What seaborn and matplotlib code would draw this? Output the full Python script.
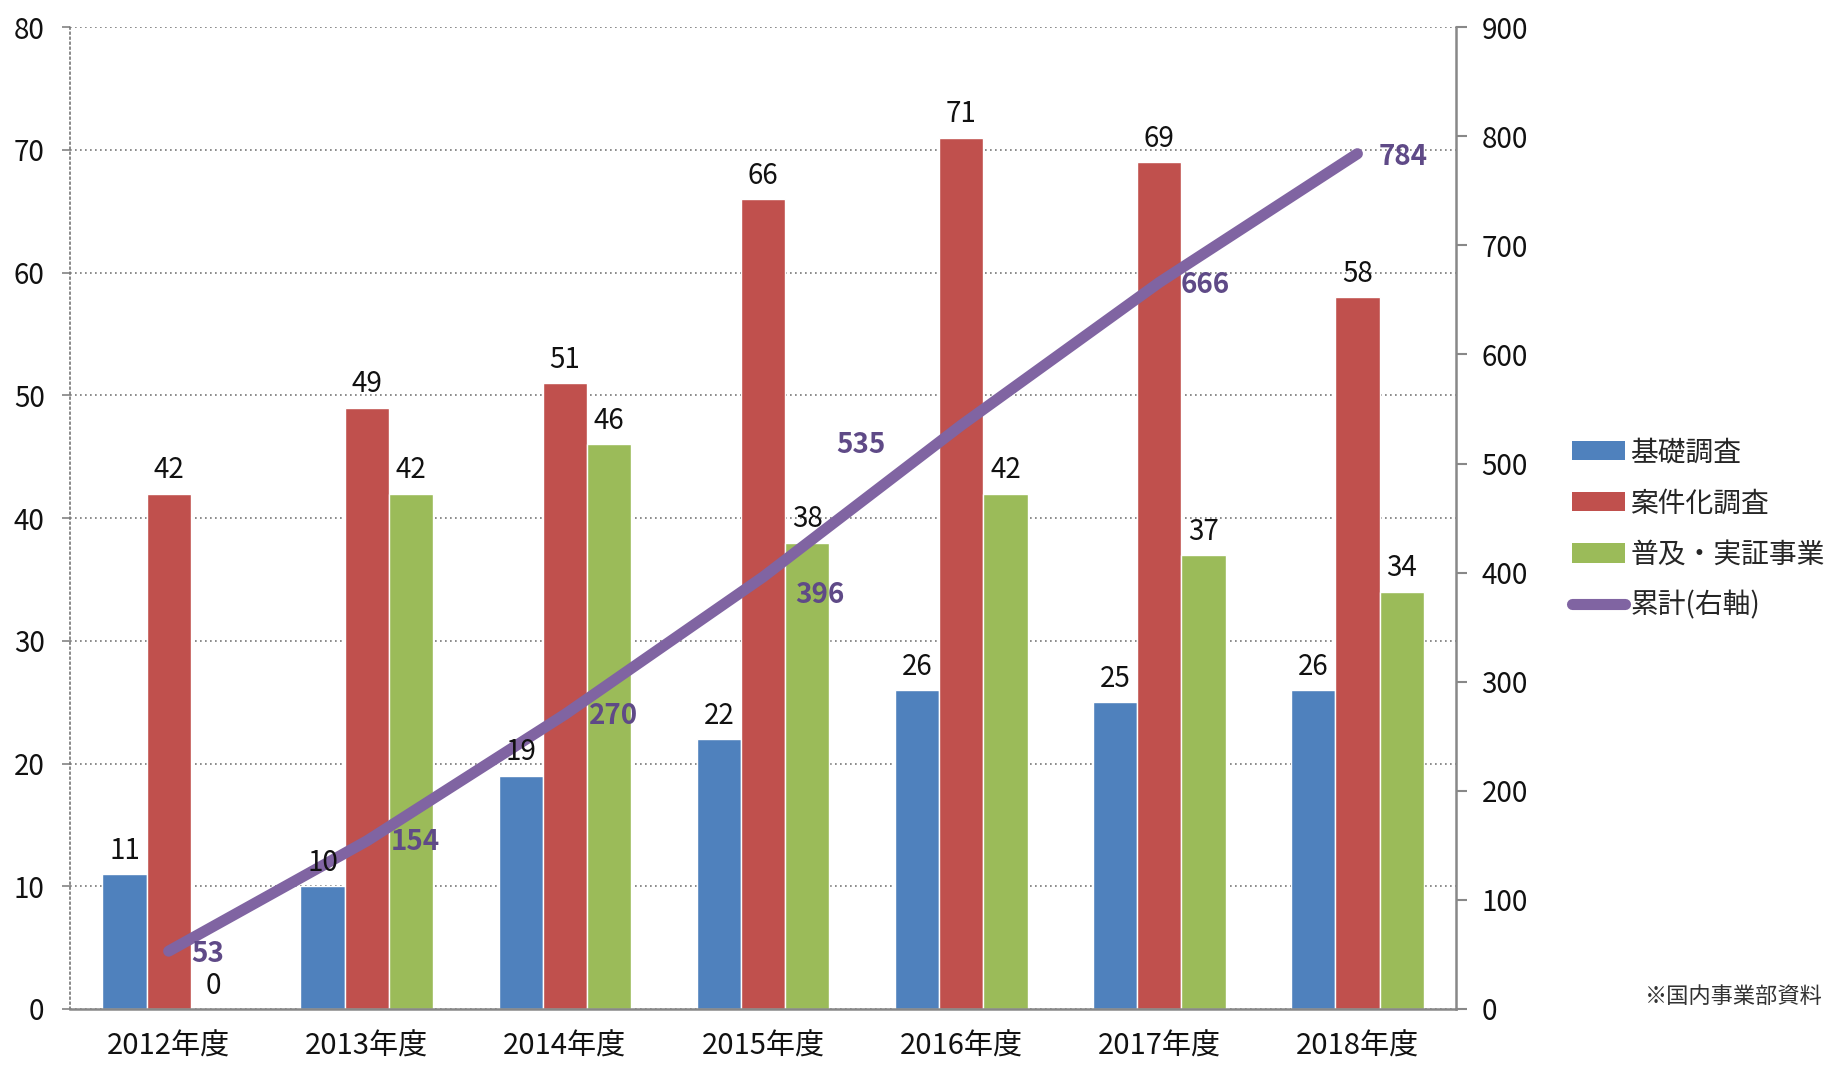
import matplotlib
matplotlib.use("Agg")
import matplotlib.pyplot as plt
import seaborn as sns
import pandas as pd
from matplotlib.lines import Line2D
from matplotlib.patches import Patch

years = ["2012年度", "2013年度", "2014年度", "2015年度", "2016年度", "2017年度", "2018年度"]
series_names = ["基礎調査", "案件化調査", "普及・実証事業"]
kiso = [11, 10, 19, 22, 26, 25, 26]
anken = [42, 49, 51, 66, 71, 69, 58]
fukyu = [0, 42, 46, 38, 42, 37, 34]
cumulative = [53, 154, 270, 396, 535, 666, 784]
line_name = "累計(右軸)"
note = "※国内事業部資料"

colors = ["#4F81BD", "#C0504D", "#9BBB59"]
line_color = "#8064A2"
label_color = "#5F4A87"
label_offsets = [(28, -2), (35, -1), (35, -1), (41, -13), (-72, -14), (33, -2), (33, -2)]

sns.set_theme(style="white")
plt.rcParams["font.family"] = ["Noto Sans CJK JP", "DejaVu Sans"]

df = pd.DataFrame({
    "year": years * 3,
    "series": sum([[s] * len(years) for s in series_names], []),
    "value": kiso + anken + fukyu,
})

fig = plt.figure(figsize=(18.32, 10.66), dpi=100)
ax = fig.add_axes([0.038, 0.0535, 0.757, 0.921])

sns.barplot(data=df, x="year", y="value", hue="series", hue_order=series_names,
            palette=colors, width=0.67, saturation=1, ax=ax, legend=False,
            zorder=2)

ax.set_ylim(0, 80)
ax.set_xlim(-0.5, 6.5)
ax.set_yticks(range(0, 81, 10))
ax.set_xlabel("")
ax.set_ylabel("")
ax.yaxis.grid(True, linestyle=(0, (1, 2)), color="#777777", linewidth=1.2, zorder=0)
ax.set_axisbelow(True)
ax.tick_params(axis="y", labelsize=20, length=6, color="#888888", pad=12)
ax.tick_params(axis="x", labelsize=21, length=0, pad=16)
ax.set_xticks([x - 0.5 for x in range(8)], minor=True)
ax.tick_params(axis="x", which="minor", length=10, color="#888888", width=1.5)
for side in ["top", "right"]:
    ax.spines[side].set_visible(False)
ax.spines["left"].set_linestyle((0, (1, 2)))
ax.spines["left"].set_color("#777777")
ax.spines["left"].set_linewidth(1.2)
ax.spines["bottom"].set_color("#888888")
ax.spines["bottom"].set_linewidth(1.8)
for lbl in ax.get_yticklabels() + ax.get_xticklabels():
    lbl.set_color("#111111")

ax2 = ax.twinx()
sns.lineplot(x=years, y=cumulative, ax=ax2, color=line_color, linewidth=8,
             sort=False, solid_capstyle="round", zorder=3)
ax2.set_ylim(0, 900)
ax2.set_yticks(range(0, 901, 100))
ax2.tick_params(axis="y", labelsize=20, length=8, color="#888888", width=1.5, pad=10)
for lbl in ax2.get_yticklabels():
    lbl.set_color("#111111")
for side in ["top", "left", "bottom"]:
    ax2.spines[side].set_visible(False)
ax2.spines["right"].set_color("#888888")
ax2.spines["right"].set_linewidth(1.8)
ax2.set_ylabel("")

# bar value labels (drawn on top layer so the line does not hide them)
for c in ax.containers:
    for bar in c:
        h = bar.get_height()
        xc = bar.get_x() + bar.get_width() / 2
        ax2.annotate(f"{h:.0f}", xy=(xc, h), xycoords=ax.transData,
                     xytext=(0, 6), textcoords="offset points",
                     ha="center", va="bottom", fontsize=20, color="#111111", zorder=6)

for i, (v, off) in enumerate(zip(cumulative, label_offsets)):
    ax2.annotate(str(v), xy=(i, v), xytext=off, textcoords="offset points",
                 ha="center", va="center", fontsize=20, fontweight="bold",
                 color=label_color, zorder=5)

handles = [Patch(facecolor=c, edgecolor="none") for c in colors]
handles.append(Line2D([0], [0], color=line_color, linewidth=8, solid_capstyle="round"))
fig.legend(handles, series_names + [line_name], loc="upper left",
           bbox_to_anchor=(0.852, 0.6), frameon=False, fontsize=20,
           handlelength=1.9, handleheight=0.68, handletextpad=0.2,
           labelspacing=0.76, borderaxespad=0)

fig.text(0.898, 0.065, note, fontsize=16, color="#333333", ha="left", va="center")

fig.savefig("out.png", dpi=100)
